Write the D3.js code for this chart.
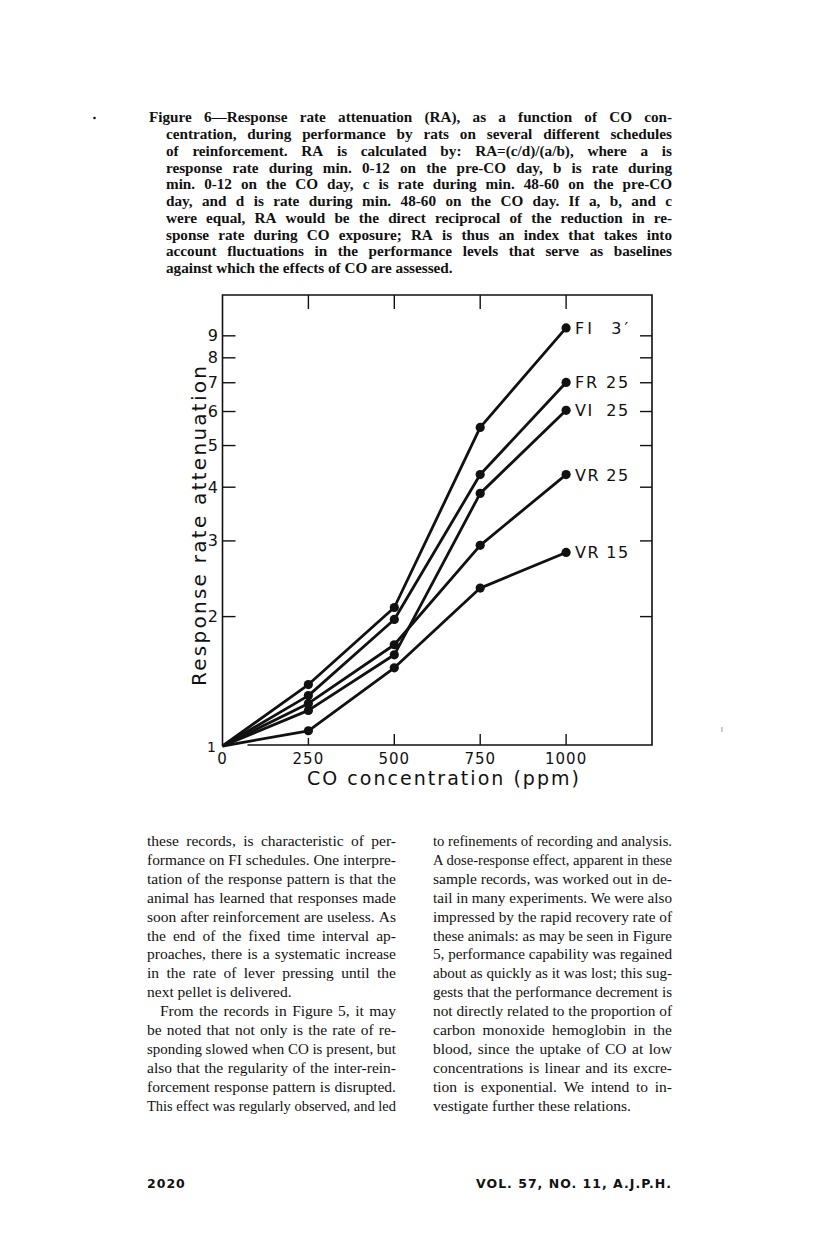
<!DOCTYPE html>
<html>
<head>
<meta charset="utf-8">
<script src="https://cdnjs.cloudflare.com/ajax/libs/d3/7.8.5/d3.min.js"></script>
<style>
    html, body { margin: 0; padding: 0; background: #fff; }
    svg { display: block; }
</style>
</head>
<body>
<svg id="page" width="816" height="1236"></svg>
<script>
// chart data
var concentrations = [0, 250, 500, 750, 1000];
var seriesNames = ["FI  3\u2032", "FR 25", "VI  25", "VR 25", "VR 15"];
var fi3 = [1, 1.39, 2.10, 5.51, 9.39];
var fr25 = [1, 1.31, 1.97, 4.28, 7.01];
var vi25 = [1, 1.21, 1.63, 3.87, 6.04];
var vr25 = [1, 1.256, 1.72, 2.93, 4.28];
var vr15 = [1, 1.085, 1.52, 2.33, 2.82];
var xTickValues = [0, 250, 500, 750, 1000];
var yTickValues = [1, 2, 3, 4, 5, 6, 7, 8, 9];

// page text
var captionLines = [
    "Figure 6\u2014Response rate attenuation (RA), as a function of CO con-",
    "centration, during performance by rats on several different schedules",
    "of reinforcement. RA is calculated by: RA=(c/d)/(a/b), where a is",
    "response rate during min. 0-12 on the pre-CO day, b is rate during",
    "min. 0-12 on the CO day, c is rate during min. 48-60 on the pre-CO",
    "day, and d is rate during min. 48-60 on the CO day. If a, b, and c",
    "were equal, RA would be the direct reciprocal of the reduction in re-",
    "sponse rate during CO exposure; RA is thus an index that takes into",
    "account fluctuations in the performance levels that serve as baselines",
    "against which the effects of CO are assessed."
];
var leftColumn = [
    "these records, is characteristic of per-",
    "formance on FI schedules. One interpre-",
    "tation of the response pattern is that the",
    "animal has learned that responses made",
    "soon after reinforcement are useless. As",
    "the end of the fixed time interval ap-",
    "proaches, there is a systematic increase",
    "in the rate of lever pressing until the",
    "next pellet is delivered.",
    "From the records in Figure 5, it may",
    "be noted that not only is the rate of re-",
    "sponding slowed when CO is present, but",
    "also that the regularity of the inter-rein-",
    "forcement response pattern is disrupted.",
    "This effect was regularly observed, and led"
];
var rightColumn = [
    "to refinements of recording and analysis.",
    "A dose-response effect, apparent in these",
    "sample records, was worked out in de-",
    "tail in many experiments. We were also",
    "impressed by the rapid recovery rate of",
    "these animals: as may be seen in Figure",
    "5, performance capability was regained",
    "about as quickly as it was lost; this sug-",
    "gests that the performance decrement is",
    "not directly related to the proportion of",
    "carbon monoxide hemoglobin in the",
    "blood, since the uptake of CO at low",
    "concentrations is linear and its excre-",
    "tion is exponential. We intend to in-",
    "vestigate further these relations."
];

var ink = "#111";
var svg = d3.select("#page");
var serifFont = "'Liberation Serif', 'Times New Roman', serif";
var letterFont = "'DejaVu Sans', Verdana, sans-serif";

// justified line: place words one by one so spaces take up the slack
function setLine(g, str, x, y, width, justify) {
    var t = g.append("text").attr("x", x).attr("y", y).text(str);
    var natural = t.node().getComputedTextLength();
    var words = str.split(" ");
    if (natural > width) {
        t.attr("textLength", width).attr("lengthAdjust", "spacingAndGlyphs");
        return;
    }
    if (!justify || words.length < 2) return;
    t.remove();
    var widths = words.map(function (w) {
        var tmp = g.append("text").text(w);
        var wd = tmp.node().getComputedTextLength();
        tmp.remove();
        return wd;
    });
    var gap = (width - d3.sum(widths)) / (words.length - 1);
    var cx = x;
    words.forEach(function (w, i) {
        g.append("text").attr("x", cx).attr("y", y).text(w);
        cx += widths[i] + gap;
    });
}

/****** caption ******/
var cap = svg.append("g")
    .attr("font-family", serifFont)
    .attr("font-size", 15.2)
    .attr("font-weight", "bold")
    .attr("fill", ink);

captionLines.forEach(function (line, i) {
    var x0 = i === 0 ? 149 : 166;
    setLine(cap, line, x0, 122.3 + i * 16.75, 672 - x0, i < captionLines.length - 1);
});

svg.append("circle").attr("cx", 94.5).attr("cy", 118).attr("r", 1.3).attr("fill", ink);

/****** chart ******/
var frame = {left: 222.5, right: 652, top: 295, bottom: 746};

var x = d3.scaleLinear().domain([0, 1250]).range([frame.left, frame.right]);
var y = d3.scaleLog().domain([1, 11.2]).range([frame.bottom, frame.top]);

var chart = svg.append("g").attr("stroke", ink).attr("fill", "none");

// frame: bottom line leaves a gap near the origin
chart.append("path")
    .attr("stroke-width", 1.6)
    .attr("d", "M" + frame.left + "," + frame.bottom + "V" + frame.top + "H" + frame.right +
        "V" + (frame.bottom - 1) + "H" + (frame.left + 25));

// top and bottom ticks
var xt = xTickValues.filter(function (d) { return d > 0; });
chart.selectAll("line.top-tick").data(xt).enter().append("line")
    .attr("x1", function (d) { return x(d); }).attr("x2", function (d) { return x(d); })
    .attr("y1", frame.top).attr("y2", frame.top + 14)
    .attr("stroke-width", 1.4);
chart.selectAll("line.bottom-tick").data(xt).enter().append("line")
    .attr("x1", function (d) { return x(d); }).attr("x2", function (d) { return x(d); })
    .attr("y1", frame.bottom - 1).attr("y2", function (d) { return frame.bottom - (d === 250 ? 8 : 12); })
    .attr("stroke-width", 1.4);

// left and right ticks
var yt = yTickValues.filter(function (d) { return d > 1; });
chart.selectAll("line.left-tick").data(yt).enter().append("line")
    .attr("x1", frame.left).attr("x2", frame.left + 13)
    .attr("y1", function (d) { return y(d); }).attr("y2", function (d) { return y(d); })
    .attr("stroke-width", 1.4);
chart.selectAll("line.right-tick").data(yt).enter().append("line")
    .attr("x1", frame.right).attr("x2", frame.right - 12)
    .attr("y1", function (d) { return y(d); }).attr("y2", function (d) { return y(d); })
    .attr("stroke-width", 1.4);

// tick labels
var labels = svg.append("g")
    .attr("font-family", letterFont)
    .attr("fill", ink);

labels.selectAll("text.ylab").data(yTickValues).enter().append("text")
    .attr("x", function (d) { return d === 1 ? 216 : 218; })
    .attr("y", function (d) { return y(d) + 5.5; })
    .attr("text-anchor", "end")
    .attr("font-size", function (d) { return d === 1 ? 14 : 16; })
    .text(function (d) { return d; });

labels.selectAll("text.xlab").data(xTickValues).enter().append("text")
    .attr("x", function (d) { return x(d); })
    .attr("y", 764)
    .attr("text-anchor", "middle")
    .attr("font-size", 15)
    .attr("letter-spacing", 1)
    .text(function (d) { return d; });

// axis titles
labels.append("text")
    .attr("transform", "translate(206,526) rotate(-90)")
    .attr("text-anchor", "middle")
    .attr("font-size", 20)
    .attr("textLength", 320)
    .attr("lengthAdjust", "spacing")
    .text("Response rate attenuation");

labels.append("text")
    .attr("x", 443).attr("y", 785)
    .attr("text-anchor", "middle")
    .attr("font-size", 19)
    .attr("textLength", 272)
    .attr("lengthAdjust", "spacing")
    .text("CO concentration (ppm)");

// series
var series = [fi3, fr25, vi25, vr25, vr15].map(function (vals, i) {
    return {
        name: seriesNames[i],
        points: vals.map(function (v, j) { return {c: concentrations[j], ra: v}; })
    };
});

var line = d3.line()
    .x(function (d) { return x(d.c); })
    .y(function (d) { return y(d.ra); });

var sg = svg.append("g").selectAll("g.series").data(series).enter().append("g");

sg.append("path")
    .attr("d", function (d) { return line(d.points); })
    .attr("fill", "none")
    .attr("stroke", ink)
    .attr("stroke-width", 2.8)
    .attr("stroke-linejoin", "round");

sg.selectAll("circle").data(function (d) { return d.points.slice(1); }).enter().append("circle")
    .attr("cx", function (d) { return x(d.c); })
    .attr("cy", function (d) { return y(d.ra); })
    .attr("r", 4.6)
    .attr("fill", ink);

sg.append("text")
    .attr("x", function (d) { return x(1000) + 9; })
    .attr("y", function (d) { return y(d.points[4].ra) + 6; })
    .attr("font-family", letterFont)
    .attr("font-size", 16)
    .attr("fill", ink)
    .attr("textLength", 53)
    .attr("lengthAdjust", "spacing")
    .style("white-space", "pre")
    .text(function (d) { return d.name; });

/****** body text ******/
var body = svg.append("g")
    .attr("font-family", serifFont)
    .attr("font-size", 15.5)
    .attr("fill", ink);

var lineGap = 18.9, firstBase = 846;

leftColumn.forEach(function (line, i) {
    var indent = i === 9 ? 13 : 0;
    setLine(body, line, 147 + indent, firstBase + i * lineGap, 249 - indent, i !== 8);
});
rightColumn.forEach(function (line, i) {
    setLine(body, line, 433, firstBase + i * lineGap, 239, i !== rightColumn.length - 1);
});

/****** footer ******/
var foot = svg.append("g")
    .attr("font-family", letterFont)
    .attr("font-weight", "bold")
    .attr("font-size", 12.5)
    .attr("fill", ink);

foot.append("text").attr("x", 147).attr("y", 1188).attr("letter-spacing", 1).text("2020");
foot.append("text").attr("x", 672).attr("y", 1188).attr("text-anchor", "end")
    .attr("letter-spacing", 1).text("VOL. 57, NO. 11, A.J.P.H.");

svg.append("line").attr("x1", 722).attr("x2", 722).attr("y1", 727).attr("y2", 732)
    .attr("stroke", "#999").attr("stroke-width", 1);
</script>
</body>
</html>
